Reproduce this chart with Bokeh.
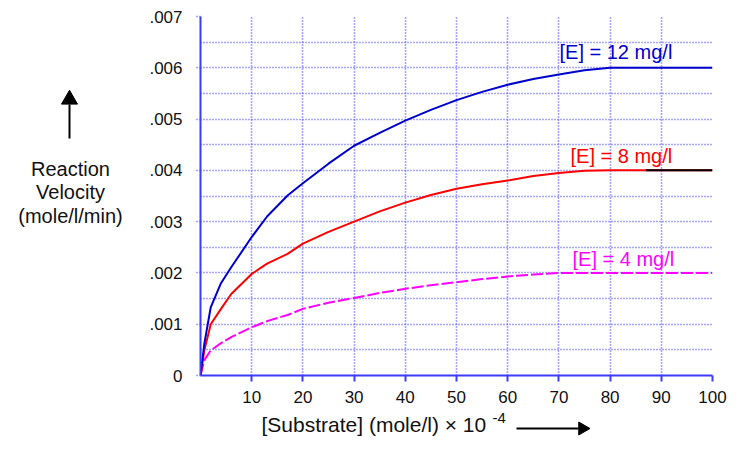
import math
from bokeh.plotting import figure
from bokeh.layouts import row, column
from bokeh.models import Range1d, FixedTicker, CustomJSTickFormatter, Label
from bokeh.core.properties import value
from bokeh.embed import file_html
from bokeh.resources import INLINE

# ---------------- data ----------------
substrate = [0, 0.75, 2, 4, 6, 10, 13, 17, 20, 25, 30, 35, 40, 45, 50, 55,
             60, 65, 70, 75, 80, 87, 100]
v_e12 = [0, .00062, .00133, .0018, .00211, .0027, .0031, .00351, .00375,
         .00413, .00448, .00473, .00497, .00518, .00537, .00553, .00567,
         .00578, .00587, .00595, .006, .006, .006]
v_e8 = [0, .00049, .001, .0013, .00159, .00198, .00218, .00237, .00257,
        .0028, .003, .0032, .00337, .00352, .00364, .00373, .0038, .00389,
        .00395, .00399, .004, .004, .004]
v_e4 = [0, .0003, .00049, .00063, .00075, .00094, .00106, .00118, .0013,
        .00142, .00151, .00161, .00169, .00176, .00182, .00188, .00193,
        .00197, .002, .002, .002, .002, .002]
black_from = 87   # the 8 mg/l line turns black from here

curve_labels = ["[E] = 12 mg/l", "[E] = 8 mg/l", "[E] = 4 mg/l"]
curve_colors = ["#0000cc", "#ff0000", "#ff00ff"]

y_title_lines = ["Reaction", "Velocity", "(mole/l/min)"]
x_title = "[Substrate] (mole/l) \u00d7 10"
x_title_exp = "-4"

x_ticks = [10, 20, 30, 40, 50, 60, 70, 80, 90, 100]
y_ticks = [0, .001, .002, .003, .004, .005, .006, .007]
y_grid = [.0005, .001, .0015, .002, .0025, .003, .0035, .004, .0045, .005,
          .0055, .006, .0065, .007]

FONT = "Liberation Sans"
GRID = "#4d4dff"
AXIS = "#3c3cff"
TXT = "#111111"

# ---------------- layout geometry (canvas px) ----------------
W, H = 727, 437          # whole canvas
LW = 130                 # left strip width
TOP_H = 410              # height of left strip + main chart
BOT_H = H - TOP_H        # bottom strip height
MW = W - LW              # main chart width
FRAME_L, FRAME_R, FRAME_T, FRAME_B = 200, 712, 16, 375
XMAX, YMAX = 100, 0.007


def dx(px):  # canvas px -> main data x
    return (px - FRAME_L) / (FRAME_R - FRAME_L) * XMAX


def dy(py):  # canvas px -> main data y
    return (FRAME_B - py) / (FRAME_B - FRAME_T) * YMAX


# ---------------- main chart ----------------
p = figure(width=MW, height=TOP_H, output_backend="svg", toolbar_location=None,
           title=None,
           x_range=Range1d(0, XMAX), y_range=Range1d(0, YMAX),
           min_border_left=FRAME_L - LW, min_border_right=W - FRAME_R,
           min_border_top=FRAME_T, min_border_bottom=TOP_H - FRAME_B)
p.outline_line_color = None
p.background_fill_color = "white"
p.border_fill_color = "white"

xa = p.xaxis[0]
xa.ticker = FixedTicker(ticks=x_ticks)
xa.axis_line_color = AXIS
xa.axis_line_width = 2
xa.major_tick_line_color = AXIS
xa.major_tick_line_width = 2
xa.major_tick_out = 6
xa.major_tick_in = 0
xa.minor_tick_line_color = None
xa.major_label_standoff = 9
xa.major_label_text_font = FONT
xa.major_label_text_font_size = "17px"
xa.major_label_text_color = TXT

ya = p.yaxis[0]
ya.ticker = FixedTicker(ticks=y_ticks)
ya.formatter = CustomJSTickFormatter(
    code="return tick == 0 ? '0' : tick.toFixed(3).replace(/^0/, '');")
ya.axis_line_color = AXIS
ya.axis_line_width = 2
ya.major_tick_line_color = GRID
ya.major_tick_line_dash = "1 2"
ya.major_tick_line_width = 1.5
ya.major_tick_out = 4
ya.major_tick_in = 0
ya.minor_tick_line_color = None
ya.major_label_standoff = 14
ya.major_label_text_font = FONT
ya.major_label_text_font_size = "17px"
ya.major_label_text_color = TXT

p.xgrid.ticker = FixedTicker(ticks=x_ticks)
p.ygrid.ticker = FixedTicker(ticks=y_grid)
for g in (p.xgrid[0], p.ygrid[0]):
    g.grid_line_color = GRID
    g.grid_line_dash = "1 2"
    g.grid_line_width = 1.6

p.line(substrate, v_e4, line_color=curve_colors[2], line_width=2,
       line_dash="12 3")
p.line(substrate, v_e8, line_color=curve_colors[1], line_width=2)
bx = [s for s in substrate if s >= black_from]
by = [v for s, v in zip(substrate, v_e8) if s >= black_from]
p.line(bx, by, line_color="black", line_width=2)
p.line(substrate, v_e12, line_color=curve_colors[0], line_width=2)

label_pos = [(559, 51), (570, 155), (572, 258)]
for txt, col, (lx, ly) in zip(curve_labels, curve_colors, label_pos):
    p.add_layout(Label(x=dx(lx), y=dy(ly), text=txt, text_color=col,
                       text_font=FONT, text_font_size="20px",
                       text_align="left", text_baseline="middle"))


def strip(width, height, x0, y0, top=0, bottom=0):
    """Plain figure; its frame spans y0+top .. y0+height-bottom in canvas px."""
    f = figure(width=width, height=height, output_backend="svg",
               toolbar_location=None, title=None,
               x_range=Range1d(x0, x0 + width),
               y_range=Range1d(y0 + height - bottom, y0 + top),
               x_axis_location=None, y_axis_location=None,
               min_border_left=0, min_border_right=0,
               min_border_top=top, min_border_bottom=bottom)
    f.outline_line_color = None
    f.grid.visible = False
    f.background_fill_color = "white"
    f.border_fill_color = "white"
    return f


# ---------------- left strip: y title + up arrow ----------------
left = strip(LW, TOP_H, 0, 0, top=FRAME_T, bottom=TOP_H - FRAME_B)
left.text(x=[70] * 3, y=[168 + i * 23.5 for i in range(3)], text=y_title_lines,
          text_font=value(FONT), text_font_size="20px", text_color=TXT,
          text_align="center", text_baseline="middle")
left.segment(x0=[69], y0=[138], x1=[69], y1=[104], line_color="black",
             line_width=2)
left.scatter(x=[69], y=[99], marker="triangle", size=16, fill_color="black",
             line_color="black")

# ---------------- bottom strip: x title + right arrow ----------------
bottom = strip(W, BOT_H, 0, TOP_H)
bottom.text(x=[261], y=[424], text=[x_title], text_font=value(FONT),
            text_font_size="21px", text_color=TXT, text_align="left",
            text_baseline="middle")
bottom.text(x=[492], y=[417], text=[x_title_exp], text_font=value(FONT),
            text_font_size="15px", text_color=TXT, text_align="left",
            text_baseline="middle")
bottom.segment(x0=[516], y0=[428], x1=[578], y1=[428], line_color="black",
               line_width=2)
bottom.scatter(x=[582], y=[428], marker="triangle", size=13,
               angle=-math.pi / 2, fill_color="black", line_color="black")

layout = column(row(left, p, spacing=0), bottom, spacing=0)
open("out.html", "w").write(file_html(layout, INLINE))
